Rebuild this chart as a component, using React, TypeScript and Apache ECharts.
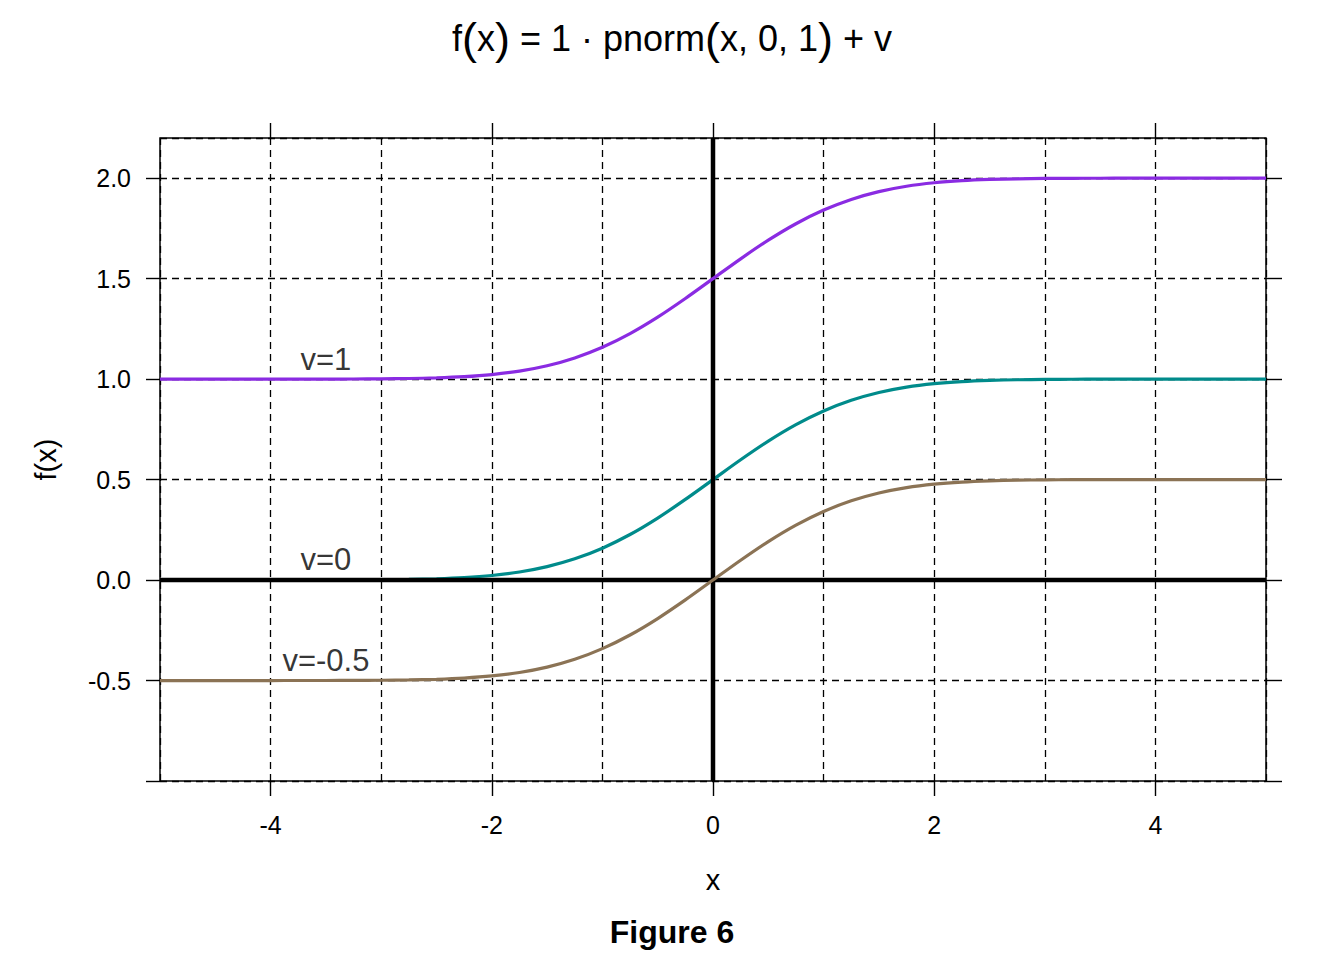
import React, { useEffect, useRef } from "react";
import * as echarts from "echarts";

const xs = [-5, -4.75, -4.5, -4.25, -4, -3.75, -3.5, -3.25, -3, -2.75, -2.5, -2.25, -2, -1.75, -1.5, -1.25, -1, -0.75, -0.5, -0.25, 0, 0.25, 0.5, 0.75, 1, 1.25, 1.5, 1.75, 2, 2.25, 2.5, 2.75, 3, 3.25, 3.5, 3.75, 4, 4.25, 4.5, 4.75, 5];

const seriesV1 = [1.0, 1.0, 1.0, 1.0, 1.0, 1.0001, 1.0002, 1.0006, 1.0013, 1.003, 1.0062, 1.0122, 1.0228, 1.0401, 1.0668, 1.1056, 1.1587, 1.2266, 1.3085, 1.4013, 1.5, 1.5987, 1.6915, 1.7734, 1.8413, 1.8944, 1.9332, 1.9599, 1.9772, 1.9878, 1.9938, 1.997, 1.9987, 1.9994, 1.9998, 1.9999, 2.0, 2.0, 2.0, 2.0, 2.0];
const seriesV0 = [0.0, 0.0, 0.0, 0.0, 0.0, 0.0001, 0.0002, 0.0006, 0.0013, 0.003, 0.0062, 0.0122, 0.0228, 0.0401, 0.0668, 0.1056, 0.1587, 0.2266, 0.3085, 0.4013, 0.5, 0.5987, 0.6915, 0.7734, 0.8413, 0.8944, 0.9332, 0.9599, 0.9772, 0.9878, 0.9938, 0.997, 0.9987, 0.9994, 0.9998, 0.9999, 1.0, 1.0, 1.0, 1.0, 1.0];
const seriesVm05 = [-0.5, -0.5, -0.5, -0.5, -0.5, -0.4999, -0.4998, -0.4994, -0.4987, -0.497, -0.4938, -0.4878, -0.4772, -0.4599, -0.4332, -0.3944, -0.3413, -0.2734, -0.1915, -0.0987, 0.0, 0.0987, 0.1915, 0.2734, 0.3413, 0.3944, 0.4332, 0.4599, 0.4772, 0.4878, 0.4938, 0.497, 0.4987, 0.4994, 0.4998, 0.4999, 0.5, 0.5, 0.5, 0.5, 0.5];

const curveLabels = ["v=1", "v=0", "v=-0.5"];
const curveLabelPos = [[-3.5, 1.1], [-3.5, 0.1], [-3.5, -0.4]];

const xTickValues = [-4, -2, 0, 2, 4];
const yTickValues = [-1, -0.5, 0, 0.5, 1, 1.5, 2];
const yLabelValues = [-0.5, 0, 0.5, 1, 1.5, 2];

const FONT = "Liberation Sans, Arial, sans-serif";

export default function App() {
  const ref = useRef<HTMLDivElement>(null);
  useEffect(() => {
    const chart = echarts.init(ref.current!, null, { renderer: "svg" });
    const pair = (ys: number[]) => xs.map((x, i) => [x, ys[i]]);
    const tickStyle = { color: "#000", width: 1.4 };
    const hiddenLine = { show: false, onZero: false };
    const option: any = {
      animation: false,
      backgroundColor: "#fff",
      grid: {
        left: 160, top: 138, width: 1106, height: 643,
        show: true, borderColor: "#000", borderWidth: 1.5, backgroundColor: "transparent",
      },
      graphic: [
        {
          type: "text", x: 672, y: 38,
          style: {
            text: "f{p|(}x{p|)} = 1 · pnorm{p|(}x, 0, 1{p|)} + v",
            fontFamily: FONT, fontSize: 36, fill: "#000",
            align: "center", verticalAlign: "middle",
            rich: { p: { fontSize: 45, fontFamily: FONT, fill: "#000" } },
          },
        },
        {
          type: "text", x: 672, y: 932,
          style: {
            text: "Figure 6", fontFamily: FONT, fontSize: 32, fontWeight: "bold",
            fill: "#000", align: "center", verticalAlign: "middle",
          },
        },
      ],
      xAxis: [
        {
          type: "value", min: -5, max: 5, interval: 1, position: "bottom",
          axisLine: hiddenLine, axisTick: { show: false }, axisLabel: { show: false },
          splitLine: { show: true, lineStyle: { color: "#000", width: 1.3, type: [7, 5] } },
        },
        {
          type: "value", min: -5, max: 5, position: "bottom",
          axisLine: hiddenLine,
          axisTick: { show: true, length: 15, customValues: xTickValues, lineStyle: tickStyle },
          axisLabel: {
            show: true, customValues: xTickValues, margin: 31, fontSize: 25,
            fontFamily: FONT, color: "#000", formatter: (v: number) => String(v),
          },
          splitLine: { show: false },
          name: "x", nameLocation: "middle", nameGap: 84,
          nameTextStyle: { fontSize: 29, fontFamily: FONT, color: "#000" },
        },
        {
          type: "value", min: -5, max: 5, position: "top",
          axisLine: hiddenLine,
          axisTick: { show: true, length: 15, customValues: xTickValues, lineStyle: tickStyle },
          axisLabel: { show: false }, splitLine: { show: false },
        },
      ],
      yAxis: [
        {
          type: "value", min: -1, max: 2.2, interval: 0.5, position: "left",
          axisLine: hiddenLine, axisTick: { show: false }, axisLabel: { show: false },
          splitLine: { show: true, lineStyle: { color: "#000", width: 1.3, type: [7, 5] } },
        },
        {
          type: "value", min: -1, max: 2.2, position: "left",
          axisLine: hiddenLine,
          axisTick: { show: true, length: 14, customValues: yTickValues, lineStyle: tickStyle },
          axisLabel: {
            show: true, customValues: yLabelValues, margin: 29, fontSize: 25,
            fontFamily: FONT, color: "#000", formatter: (v: number) => v.toFixed(1),
          },
          splitLine: { show: false },
          name: "f(x)", nameLocation: "middle", nameGap: 100, nameRotate: 90,
          nameTextStyle: { fontSize: 29, fontFamily: FONT, color: "#000" },
        },
        {
          type: "value", min: -1, max: 2.2, position: "right",
          axisLine: hiddenLine,
          axisTick: { show: true, length: 16, customValues: yTickValues, lineStyle: tickStyle },
          axisLabel: { show: false }, splitLine: { show: false },
        },
      ],
      series: [
        {
          type: "line", data: pair(seriesV0), smooth: 0.3, showSymbol: false,
          lineStyle: { color: "#008B8B", width: 3.2 }, z: 3,
        },
        {
          type: "line", data: [[-5, 0], [5, 0]], showSymbol: false,
          lineStyle: { color: "#000", width: 4.5 }, z: 4,
        },
        {
          type: "line", data: [[0, -1], [0, 2.2]], showSymbol: false,
          lineStyle: { color: "#000", width: 4.5 }, z: 4,
        },
        {
          type: "line", data: pair(seriesV1), smooth: 0.3, showSymbol: false,
          lineStyle: { color: "#8A2BE2", width: 3.2 }, z: 5,
        },
        {
          type: "line", data: pair(seriesVm05), smooth: 0.3, showSymbol: false,
          lineStyle: { color: "#8B7355", width: 3.2 }, z: 5,
        },
        {
          type: "scatter", symbolSize: 0, z: 6,
          data: curveLabels.map((n, i) => ({ name: n, value: curveLabelPos[i] })),
          label: {
            show: true, position: "inside", formatter: (p: any) => p.name,
            fontSize: 31, fontFamily: FONT, color: "#000",
          },
        },
      ],
    };
    chart.setOption(option);
    return () => chart.dispose();
  }, []);
  return (
    <div
      ref={ref}
      style={{ position: "fixed", left: 0, top: 0, width: 1344, height: 960, background: "#fff" }}
    />
  );
}
